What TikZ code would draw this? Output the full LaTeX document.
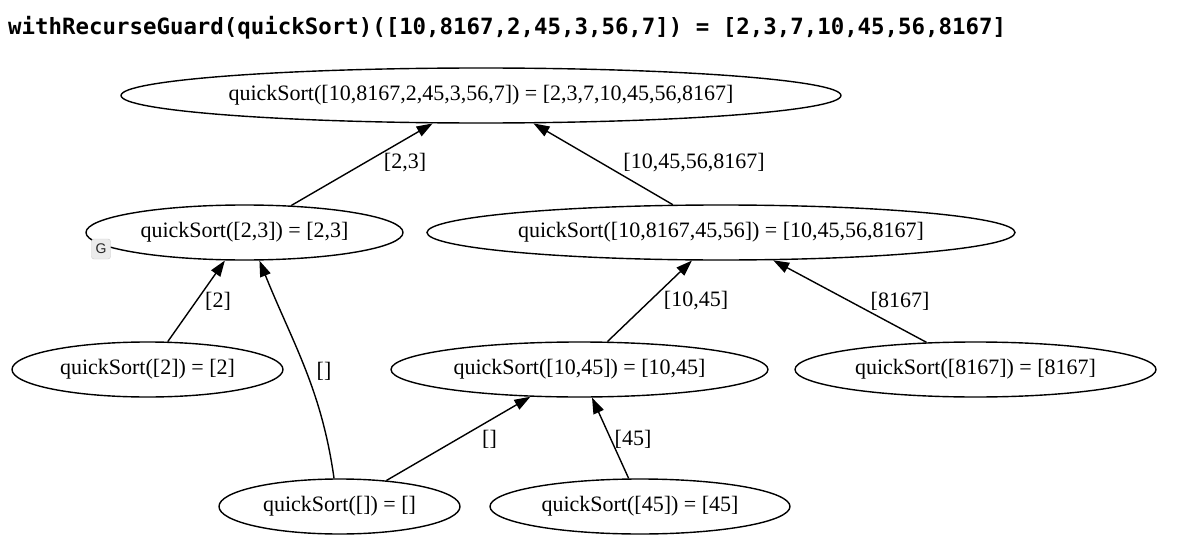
\documentclass[tikz,border=0pt]{standalone}
\usepackage{fontspec}
\setmainfont{Liberation Serif}
\newfontfamily\titlefont{DejaVu Sans Mono}
\newfontfamily\badgefont{Liberation Sans}
\usetikzlibrary{shapes.geometric,arrows.meta}
\begin{document}
\begin{tikzpicture}[x=1pt,y=-1pt,
  qs/.style={ellipse,draw,line width=1.4pt,inner sep=0pt,minimum height=55pt,font=\fontsize{22}{24}\selectfont},
  lbl/.style={inner sep=0pt,font=\fontsize{22}{24}\selectfont},
  edge/.style={line width=1.4pt,-{Triangle[length=16pt,width=11pt]}}]
\useasboundingbox (0,0) rectangle (1200,551);
\fill[white] (0,0) rectangle (1200,551);
\node[anchor=base west,inner sep=0pt,font=\titlefont\bfseries\fontsize{22.4}{24}\selectfont] (title) at (8,35)
  {withRecurseGuard(quickSort)([10,8167,2,45,3,56,7]) = [2,3,7,10,45,56,8167]};
\node[qs,minimum width=720pt] (n1) at (481,95.5) {quickSort([10,8167,2,45,3,56,7]) = [2,3,7,10,45,56,8167]};
\node[qs,minimum width=317pt] (n2) at (244.5,232.5) {quickSort([2,3]) = [2,3]};
\node[qs,minimum width=588pt] (n3) at (721,232.5) {quickSort([10,8167,45,56]) = [10,45,56,8167]};
\node[qs,minimum width=271pt] (n4) at (147.5,369.5) {quickSort([2]) = [2]};
\node[qs,minimum width=377pt] (n5) at (579.5,369.5) {quickSort([10,45]) = [10,45]};
\node[qs,minimum width=361pt] (n6) at (975.5,369.5) {quickSort([8167]) = [8167]};
\node[qs,minimum width=241pt] (n7) at (339.5,506.5) {quickSort([]) = []};
\node[qs,minimum width=300pt] (n8) at (640,506.5) {quickSort([45]) = [45]};
\draw[edge] (n2.30) -- (n1.210.3);
\draw[edge] (n3.150.2) -- (n1.332.1);
\draw[edge] (n4.54.3) -- (n2.235.6);
\draw[edge] (n7.101) to[out=98,in=-68] (n2.298.5);
\draw[edge] (n5.45) -- (n3.224.5);
\draw[edge] (n6.151.5) -- (n3.332.1);
\draw[edge] (n7.29.2) -- (n5.209.7);
\draw[edge] (n8.112.8) -- (n5.294.4);
\node[lbl] (l1) at (405,163) {[2,3]};
\node[lbl] (l2) at (694,163) {[10,45,56,8167]};
\node[lbl] (l3) at (218,301) {[2]};
\node[lbl] (l4) at (324,371) {[]};
\node[lbl] (l5) at (696,301) {[10,45]};
\node[lbl] (l6) at (900,301) {[8167]};
\node[lbl] (l7) at (489.5,439) {[]};
\node[lbl] (l8) at (633,439) {[45]};
\node[draw=black!20,fill=black!8,rounded corners=2.5pt,minimum width=19pt,minimum height=20pt,inner sep=0pt,
  font=\badgefont\fontsize{14}{14}\selectfont,text=black!85] (g) at (101,249) {G};
\end{tikzpicture}
\end{document}
